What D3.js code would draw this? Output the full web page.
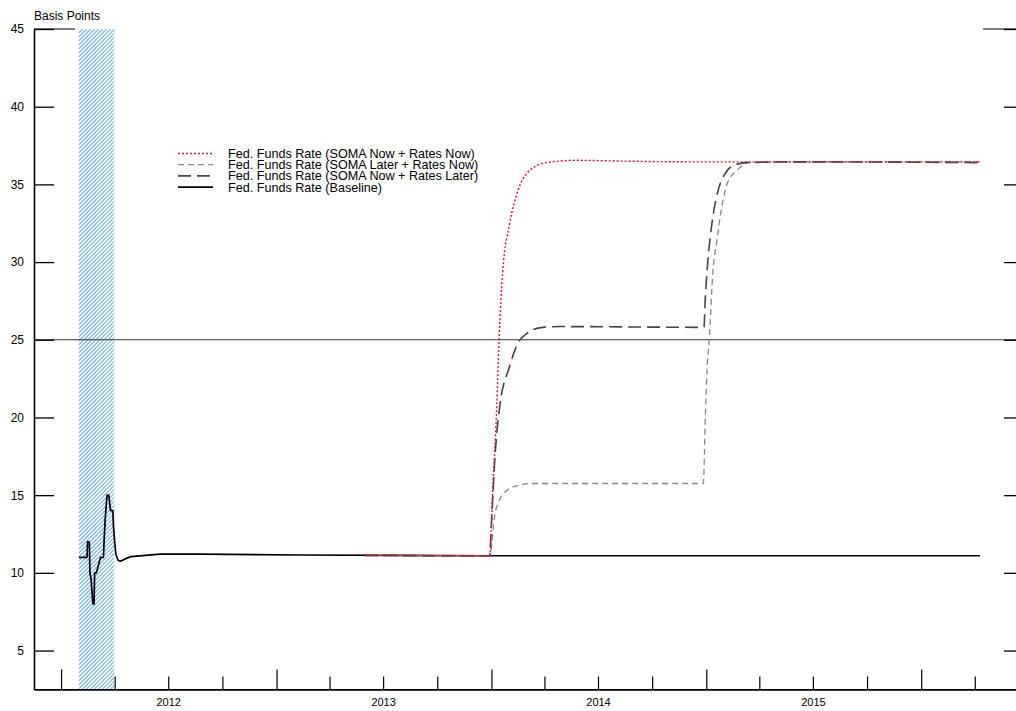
<!DOCTYPE html>
<html>
<head>
<meta charset="utf-8">
<script src="https://cdn.jsdelivr.net/npm/d3@7"></script>
<style>
  html, body { margin: 0; padding: 0; background: #fff; }
  svg { display: block; font-family: "Liberation Sans", Arial, sans-serif; }
</style>
</head>
<body>
<svg id="chart" width="1016" height="711"></svg>
<script>
// ---------------- DATA ----------------
const yTicks = [5, 10, 15, 20, 25, 30, 35, 40, 45];
const yearLabels = ["2012", "2013", "2014", "2015"];
const shadeRange = ["2012-01-31", "2012-04-01"];
const refLineValue = 25;

const baseline = [
  ["2012-01-31", 11.0], ["2012-02-14", 11.0], ["2012-02-15", 12.0], ["2012-02-18", 12.0],
  ["2012-02-19", 10.0], ["2012-02-21", 9.6], ["2012-02-24", 8.0], ["2012-02-26", 8.0],
  ["2012-02-27", 10.0], ["2012-03-01", 10.0], ["2012-03-08", 11.0], ["2012-03-13", 11.0],
  ["2012-03-14", 12.0], ["2012-03-16", 13.5], ["2012-03-19", 15.0], ["2012-03-22", 15.0],
  ["2012-03-25", 14.0], ["2012-03-29", 14.0], ["2012-03-30", 13.0], ["2012-04-01", 12.0],
  ["2012-04-03", 11.2], ["2012-04-07", 10.8], ["2012-04-11", 10.75], ["2012-04-19", 10.9],
  ["2012-04-29", 11.05], ["2012-06-17", 11.2], ["2012-08-24", 11.2], ["2013-02-10", 11.15],
  ["2013-07-30", 11.12], ["2013-12-29", 11.1], ["2016-04-10", 11.1]
];

const somaNowRatesNow = [
  ["2013-06-01", 11.12], ["2013-12-29", 11.1], ["2014-01-03", 15.1], ["2014-01-10", 20.7],
  ["2014-01-14", 25.0], ["2014-01-20", 29.3], ["2014-02-01", 32.5], ["2014-02-15", 34.6],
  ["2014-03-07", 35.9], ["2014-04-05", 36.4], ["2014-05-26", 36.55], ["2014-08-08", 36.5],
  ["2014-12-22", 36.45], ["2016-04-10", 36.45]
];

const somaLaterRatesNow = [
  ["2013-06-01", 11.12], ["2013-12-29", 11.1], ["2014-01-07", 13.8], ["2014-01-15", 14.7],
  ["2014-01-27", 15.3], ["2014-02-13", 15.6], ["2014-03-12", 15.75], ["2014-12-27", 15.75],
  ["2014-12-30", 19.6], ["2015-01-02", 22.9], ["2015-01-06", 25.0], ["2015-01-12", 29.3],
  ["2015-01-19", 31.4], ["2015-01-27", 33.5], ["2015-02-06", 35.1], ["2015-02-22", 35.9],
  ["2015-03-15", 36.4], ["2015-06-01", 36.45], ["2016-04-10", 36.45]
];

const somaNowRatesLater = [
  ["2013-06-01", 11.12], ["2013-12-29", 11.1], ["2014-01-01", 13.2], ["2014-01-07", 17.5],
  ["2014-01-15", 20.7], ["2014-02-01", 23.3], ["2014-02-15", 24.8], ["2014-03-02", 25.4],
  ["2014-03-29", 25.8], ["2014-04-27", 25.85], ["2014-12-28", 25.8], ["2014-12-30", 27.5],
  ["2015-01-02", 29.3], ["2015-01-07", 31.4], ["2015-01-12", 32.9], ["2015-01-21", 34.6],
  ["2015-02-02", 35.7], ["2015-02-15", 36.2], ["2015-03-11", 36.4], ["2015-06-01", 36.45],
  ["2016-04-10", 36.4]
];

const seriesNames = [
  "Fed. Funds Rate (SOMA Now + Rates Now)",
  "Fed. Funds Rate (SOMA Later + Rates Now)",
  "Fed. Funds Rate (SOMA Now + Rates Later)",
  "Fed. Funds Rate (Baseline)"
];

// ---------------- CHART ----------------
const parse = d3.timeParse("%Y-%m-%d");
const svg = d3.select("#chart");

const plotLeft = 34, plotRight = 1016, plotTop = 29, plotBottom = 689.4;
const x = d3.scaleTime()
  .domain([parse("2011-11-16"), parse("2016-06-10")])
  .range([plotLeft, plotRight]);
const y = d3.scaleLinear().domain([2.5, 45]).range([plotBottom, plotTop]);

// hatched shading: diagonal lines clipped to the shaded date range
const defs = svg.append("defs");
const sx0 = x(parse(shadeRange[0])), sx1 = x(parse(shadeRange[1]));
const sy0 = y(45), sy1 = y(2.5);
defs.append("clipPath").attr("id", "shadeClip")
  .append("rect").attr("x", sx0).attr("y", sy0)
  .attr("width", sx1 - sx0).attr("height", sy1 - sy0);
const hatchOffsets = d3.range(sy0 - (sx1 - sx0), sy1 + 4, 4);
svg.append("g").attr("clip-path", "url(#shadeClip)")
  .selectAll("line").data(hatchOffsets).join("line")
  .attr("x1", sx0).attr("y1", d => d + (sx1 - sx0))
  .attr("x2", sx1).attr("y2", d => d)
  .attr("stroke", "#6fb5f2").attr("stroke-width", 1.1);

// reference line at 25
svg.append("line")
  .attr("x1", plotLeft).attr("x2", plotRight)
  .attr("y1", y(refLineValue)).attr("y2", y(refLineValue))
  .attr("stroke", "#333").attr("stroke-width", 1.1);

// top fragments
svg.append("line").attr("x1", plotLeft).attr("x2", plotLeft + 41).attr("y1", y(45)).attr("y2", y(45))
  .attr("stroke", "#555").attr("stroke-width", 1.3);
svg.append("line").attr("x1", plotRight - 33).attr("x2", plotRight).attr("y1", y(45)).attr("y2", y(45))
  .attr("stroke", "#555").attr("stroke-width", 1.3);

// left axis
const yAxis = d3.axisLeft(y).tickValues(yTicks).tickSizeInner(-20).tickSizeOuter(0).tickPadding(10);
const gy = svg.append("g").attr("transform", `translate(${plotLeft},0)`).call(yAxis);
gy.select(".domain").attr("stroke", "#000").attr("stroke-width", 1.6);
gy.selectAll(".tick line").attr("stroke", "#000").attr("stroke-width", 1.3);
gy.selectAll(".tick text").attr("font-size", 12).attr("fill", "#000")
  .attr("font-family", "Liberation Sans, Arial, sans-serif");

// right axis ticks (axis line beyond the frame)
const yAxisR = d3.axisRight(y).tickValues(yTicks).tickSizeInner(-20).tickSizeOuter(0).tickFormat("");
const gyr = svg.append("g").attr("transform", `translate(1024,0)`).call(yAxisR);
gyr.select(".domain").remove();
gyr.selectAll(".tick line").attr("stroke", "#000").attr("stroke-width", 1.3);

// bottom axis quarterly ticks
const quarters = d3.timeMonth.every(3).range(x.domain()[0], x.domain()[1]);
const xAxis = d3.axisBottom(x).tickValues(quarters).tickSizeInner(-13).tickSizeOuter(0).tickFormat("");
const gx = svg.append("g").attr("transform", `translate(0,${plotBottom})`).call(xAxis);
gx.select(".domain").attr("stroke", "#000").attr("stroke-width", 1.6);
gx.selectAll(".tick line")
  .attr("stroke", "#000").attr("stroke-width", 1.2)
  .attr("y2", d => d.getMonth() === 0 ? -20 : -13);

// year labels
const labelDates = yearLabels.map(yr => parse(yr + "-07-01"));
const xAxisLab = d3.axisBottom(x).tickValues(labelDates).tickSize(0).tickPadding(9)
  .tickFormat(d3.timeFormat("%Y"));
const gxl = svg.append("g").attr("transform", `translate(0,${plotBottom})`).call(xAxisLab);
gxl.select(".domain").remove();
gxl.selectAll(".tick text").attr("font-size", 11).attr("fill", "#000")
  .attr("font-family", "Liberation Sans, Arial, sans-serif");

// y title
svg.append("text").attr("x", plotLeft).attr("y", 20).attr("font-size", 12).attr("fill", "#000")
  .text("Basis Points");

// lines
const styles = [
  { data: somaNowRatesNow,   color: "#e8101a", width: 1.4, dash: "2,2" },
  { data: somaLaterRatesNow, color: "#888888", width: 1.3, dash: "6,4" },
  { data: somaNowRatesLater, color: "#444444", width: 1.6, dash: "13,6" },
  { data: baseline,          color: "#000000", width: 1.6, dash: null }
];

const lineSmooth = d3.line().x(d => x(parse(d[0]))).y(d => y(d[1])).curve(d3.curveMonotoneX);
const lineStraight = d3.line().x(d => x(parse(d[0]))).y(d => y(d[1]));

// baseline first, then scenarios on top
svg.append("path").datum(baseline)
  .attr("d", lineStraight).attr("fill", "none")
  .attr("stroke", "#000").attr("stroke-width", 1.7).attr("stroke-linejoin", "round");

[1, 2, 0].forEach(i => {
  const s = styles[i];
  svg.append("path").datum(s.data)
    .attr("d", lineSmooth).attr("fill", "none")
    .attr("stroke", s.color).attr("stroke-width", s.width)
    .attr("stroke-dasharray", s.dash);
});

// legend
const legend = svg.append("g").attr("transform", "translate(178,153.5)");
seriesNames.forEach((name, i) => {
  const s = styles[i];
  const row = legend.append("g").attr("transform", `translate(0,${i * 11.2})`);
  row.append("line").attr("x1", 0).attr("x2", 35).attr("y1", 0).attr("y2", 0)
    .attr("stroke", s.color).attr("stroke-width", s.width)
    .attr("stroke-dasharray", s.dash);
  row.append("text").attr("x", 50).attr("y", 0).attr("dy", "0.35em")
    .attr("font-size", 12.6).attr("fill", "#000").text(name);
});
</script>
</body>
</html>
